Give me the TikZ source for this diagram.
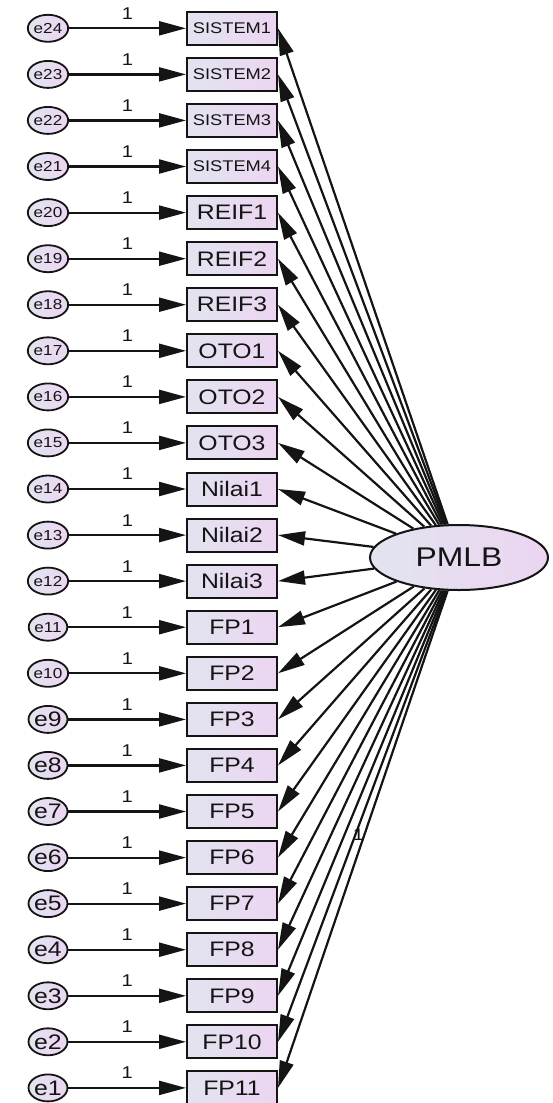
\documentclass[tikz,border=0pt]{standalone}
\usepackage{fontspec}
\newfontfamily\amosfont[FakeStretch=1.18]{Liberation Sans}
\usetikzlibrary{arrows.meta,shapes.geometric}
\definecolor{lblue}{RGB}{226,228,240}
\definecolor{lpink}{RGB}{236,213,241}
\definecolor{ink}{RGB}{20,20,20}

\tikzset{
  obs/.style={draw=ink, line width=2pt, rectangle, minimum width=90pt, minimum height=33pt,
    inner sep=0pt, left color=lblue, right color=lpink, text=ink,
    font=\amosfont\fontsize{21}{23}\selectfont},
  obssmall/.style={obs, font=\amosfont\fontsize{15.5}{17}\selectfont},
  err/.style={draw=ink, line width=1.8pt, ellipse, minimum width=35pt, minimum height=27pt,
    inner sep=0pt, left color=lblue, right color=lpink, text=ink,
    font=\amosfont\fontsize{21}{23}\selectfont},
  errsmall/.style={err, font=\amosfont\fontsize{14.5}{16}\selectfont},
  lat/.style={draw=ink, line width=2pt, ellipse, minimum width=178pt, minimum height=65pt,
    inner sep=0pt, left color=lblue, right color=lpink, text=ink,
    font=\amosfont\fontsize{27}{30}\selectfont},
  lbl/.style={text=ink, inner sep=0pt, font=\amosfont\fontsize{17}{19}\selectfont},
  path/.style={line width=2.2pt, draw=ink, -{Triangle[length=27pt,width=14pt]}}
}

\begin{document}
\begin{tikzpicture}[x=1pt, y=-1pt]
    \useasboundingbox (0,0) rectangle (552,1103);

    % latent variable
    \node(pmlb)[lat] at (459,557.5) {PMLB};

    % indicators
    \node(s1)[obssmall] at (232,28.3) {SISTEM1};
    \node(s2)[obssmall] at (232,74.4) {SISTEM2};
    \node(s3)[obssmall] at (232,120.4) {SISTEM3};
    \node(s4)[obssmall] at (232,166.5) {SISTEM4};
    \node(r1)[obs] at (232,212.6) {REIF1};
    \node(r2)[obs] at (232,258.7) {REIF2};
    \node(r3)[obs] at (232,304.7) {REIF3};
    \node(o1)[obs] at (232,350.8) {OTO1};
    \node(o2)[obs] at (232,396.9) {OTO2};
    \node(o3)[obs] at (232,442.9) {OTO3};
    \node(n1)[obs] at (232,489.0) {Nilai1};
    \node(n2)[obs] at (232,535.1) {Nilai2};
    \node(n3)[obs] at (232,581.1) {Nilai3};
    \node(fp1)[obs] at (232,627.2) {FP1};
    \node(fp2)[obs] at (232,673.3) {FP2};
    \node(fp3)[obs] at (232,719.4) {FP3};
    \node(fp4)[obs] at (232,765.4) {FP4};
    \node(fp5)[obs] at (232,811.5) {FP5};
    \node(fp6)[obs] at (232,857.6) {FP6};
    \node(fp7)[obs] at (232,903.6) {FP7};
    \node(fp8)[obs] at (232,949.7) {FP8};
    \node(fp9)[obs] at (232,995.8) {FP9};
    \node(fp10)[obs] at (232,1041.8) {FP10};
    \node(fp11)[obs] at (232,1087.9) {FP11};

    % error terms
    \node(e24)[errsmall] at (48,28.3) {e24};
    \node(e23)[errsmall] at (48,74.4) {e23};
    \node(e22)[errsmall] at (48,120.4) {e22};
    \node(e21)[errsmall] at (48,166.5) {e21};
    \node(e20)[errsmall] at (48,212.6) {e20};
    \node(e19)[errsmall] at (48,258.7) {e19};
    \node(e18)[errsmall] at (48,304.7) {e18};
    \node(e17)[errsmall] at (48,350.8) {e17};
    \node(e16)[errsmall] at (48,396.9) {e16};
    \node(e15)[errsmall] at (48,442.9) {e15};
    \node(e14)[errsmall] at (48,489.0) {e14};
    \node(e13)[errsmall] at (48,535.1) {e13};
    \node(e12)[errsmall] at (48,581.1) {e12};
    \node(e11)[errsmall] at (48,627.2) {e11};
    \node(e10)[errsmall] at (48,673.3) {e10};
    \node(e9)[err] at (48,719.4) {e9};
    \node(e8)[err] at (48,765.4) {e8};
    \node(e7)[err] at (48,811.5) {e7};
    \node(e6)[err] at (48,857.6) {e6};
    \node(e5)[err] at (48,903.6) {e5};
    \node(e4)[err] at (48,949.7) {e4};
    \node(e3)[err] at (48,995.8) {e3};
    \node(e2)[err] at (48,1041.8) {e2};
    \node(e1)[err] at (48,1087.9) {e1};

    % error paths
    \draw[path] (e24) -- node[lbl, above=8pt] {1} (s1);
    \draw[path] (e23) -- node[lbl, above=8pt] {1} (s2);
    \draw[path] (e22) -- node[lbl, above=8pt] {1} (s3);
    \draw[path] (e21) -- node[lbl, above=8pt] {1} (s4);
    \draw[path] (e20) -- node[lbl, above=8pt] {1} (r1);
    \draw[path] (e19) -- node[lbl, above=8pt] {1} (r2);
    \draw[path] (e18) -- node[lbl, above=8pt] {1} (r3);
    \draw[path] (e17) -- node[lbl, above=8pt] {1} (o1);
    \draw[path] (e16) -- node[lbl, above=8pt] {1} (o2);
    \draw[path] (e15) -- node[lbl, above=8pt] {1} (o3);
    \draw[path] (e14) -- node[lbl, above=8pt] {1} (n1);
    \draw[path] (e13) -- node[lbl, above=8pt] {1} (n2);
    \draw[path] (e12) -- node[lbl, above=8pt] {1} (n3);
    \draw[path] (e11) -- node[lbl, above=8pt] {1} (fp1);
    \draw[path] (e10) -- node[lbl, above=8pt] {1} (fp2);
    \draw[path] (e9) -- node[lbl, above=8pt] {1} (fp3);
    \draw[path] (e8) -- node[lbl, above=8pt] {1} (fp4);
    \draw[path] (e7) -- node[lbl, above=8pt] {1} (fp5);
    \draw[path] (e6) -- node[lbl, above=8pt] {1} (fp6);
    \draw[path] (e5) -- node[lbl, above=8pt] {1} (fp7);
    \draw[path] (e4) -- node[lbl, above=8pt] {1} (fp8);
    \draw[path] (e3) -- node[lbl, above=8pt] {1} (fp9);
    \draw[path] (e2) -- node[lbl, above=8pt] {1} (fp10);
    \draw[path] (e1) -- node[lbl, above=8pt] {1} (fp11);

    % loadings
    \draw[path] (pmlb) -- (s1.east);
    \draw[path] (pmlb) -- (s2.east);
    \draw[path] (pmlb) -- (s3.east);
    \draw[path] (pmlb) -- (s4.east);
    \draw[path] (pmlb) -- (r1.east);
    \draw[path] (pmlb) -- (r2.east);
    \draw[path] (pmlb) -- (r3.east);
    \draw[path] (pmlb) -- (o1.east);
    \draw[path] (pmlb) -- (o2.east);
    \draw[path] (pmlb) -- (o3.east);
    \draw[path] (pmlb) -- (n1.east);
    \draw[path] (pmlb) -- (n2.east);
    \draw[path] (pmlb) -- (n3.east);
    \draw[path] (pmlb) -- (fp1.east);
    \draw[path] (pmlb) -- (fp2.east);
    \draw[path] (pmlb) -- (fp3.east);
    \draw[path] (pmlb) -- (fp4.east);
    \draw[path] (pmlb) -- (fp5.east);
    \draw[path] (pmlb) -- (fp6.east);
    \draw[path] (pmlb) -- (fp7.east);
    \draw[path] (pmlb) -- (fp8.east);
    \draw[path] (pmlb) -- (fp9.east);
    \draw[path] (pmlb) -- (fp10.east);
    \draw[path] (pmlb) -- node[lbl, pos=0.49, xshift=-6pt] {1} (fp11.east);
\end{tikzpicture}
\end{document}
